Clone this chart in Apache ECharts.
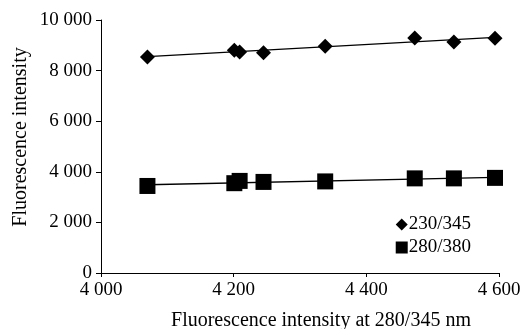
<!DOCTYPE html>
<html>
<head>
<meta charset="utf-8">
<script src="https://cdn.jsdelivr.net/npm/echarts@6/dist/echarts.min.js"></script>
<style>
  html, body { margin: 0; padding: 0; background: #fff; }
  #chart { width: 526px; height: 329px; }
</style>
</head>
<body>
<div id="chart"></div>
<script>
// values
const xValues = [4070, 4201, 4209, 4245, 4338, 4473, 4532, 4594];
const series230 = [8540, 8800, 8740, 8710, 8960, 9290, 9130, 9280];
const series280 = [3440, 3550, 3640, 3600, 3620, 3740, 3740, 3760];
const seriesNames = ['230/345', '280/380'];
const xTicks = [4000, 4200, 4400, 4600];
const yTicks = [0, 2000, 4000, 6000, 8000, 10000];

const font = 'Liberation Serif';

// least-squares trend line, like a spreadsheet linear trendline
const trend = (xs, ys) => {
  const n = xs.length;
  const mx = xs.reduce((a, b) => a + b, 0) / n;
  const my = ys.reduce((a, b) => a + b, 0) / n;
  let sxy = 0, sxx = 0;
  xs.forEach((x, i) => { sxy += (x - mx) * (ys[i] - my); sxx += (x - mx) * (x - mx); });
  const k = sxy / sxx;
  const x0 = Math.min(...xs), x1 = Math.max(...xs);
  return [[x0, my + k * (x0 - mx)], [x1, my + k * (x1 - mx)]];
};

const fmt = (v) => String(v).replace(/\B(?=(\d{3})+(?!\d))/g, ' ');

const pts = (ys) => xValues.map((x, i) => [x, ys[i]]);

const chart = echarts.init(document.getElementById('chart'));

const option = {
  animation: false,
  backgroundColor: '#fff',
  grid: { left: 101, right: 27, top: 20, bottom: 56 },
  legend: {
    right: 50,
    top: 210,
    orient: 'vertical',
    itemGap: 4,
    itemWidth: 12,
    itemHeight: 12,
    textStyle: { fontFamily: font, fontSize: 19, color: '#000', padding: [0, 0, 0, -4] },
    data: [
      { name: seriesNames[0], icon: 'diamond', itemStyle: { opacity: 1 } },
      { name: seriesNames[1], icon: 'rect', itemStyle: { opacity: 1 } },
    ],
  },
  xAxis: {
    type: 'value',
    min: xTicks[0],
    max: xTicks[xTicks.length - 1],
    interval: 200,
    axisLine: { lineStyle: { color: '#000', width: 1 } },
    axisTick: { show: true, length: 4, lineStyle: { color: '#000' } },
    axisLabel: { fontFamily: font, fontSize: 19, color: '#000', margin: 8, formatter: fmt },
    splitLine: { show: false },
  },
  yAxis: {
    type: 'value',
    min: yTicks[0],
    max: yTicks[yTicks.length - 1],
    interval: 2000,
    axisLine: { show: true, lineStyle: { color: '#000', width: 1 } },
    axisTick: { show: true, length: 5, lineStyle: { color: '#000' } },
    axisLabel: { fontFamily: font, fontSize: 19, color: '#000', margin: 9, formatter: fmt },
    splitLine: { show: false },
  },
  graphic: [
    {
      type: 'text',
      x: 321, y: 321,
      style: {
        text: 'Fluorescence intensity at 280/345 nm',
        align: 'center', verticalAlign: 'middle',
        font: '20px "Liberation Serif"', fill: '#000',
      },
    },
    {
      type: 'text',
      x: 21, y: 137, rotation: Math.PI / 2,
      style: {
        text: 'Fluorescence intensity',
        align: 'center', verticalAlign: 'middle',
        font: '20px "Liberation Serif"', fill: '#000',
      },
    },
  ],
  series: [
    {
      name: seriesNames[0],
      type: 'scatter',
      symbol: 'diamond',
      symbolSize: 15,
      itemStyle: { color: '#000', opacity: 1 },
      data: pts(series230),
      z: 3,
    },
    {
      name: seriesNames[1],
      type: 'scatter',
      symbol: 'rect',
      symbolSize: 16,
      itemStyle: { color: '#000', opacity: 1 },
      data: pts(series280),
      z: 3,
    },
    {
      name: 'trend1',
      type: 'line',
      data: trend(xValues, series230),
      symbol: 'none',
      lineStyle: { color: '#000', width: 1.3 },
      z: 2,
    },
    {
      name: 'trend2',
      type: 'line',
      data: trend(xValues, series280),
      symbol: 'none',
      lineStyle: { color: '#000', width: 1.3 },
      z: 2,
    },
  ],
};

chart.setOption(option);
</script>
</body>
</html>
